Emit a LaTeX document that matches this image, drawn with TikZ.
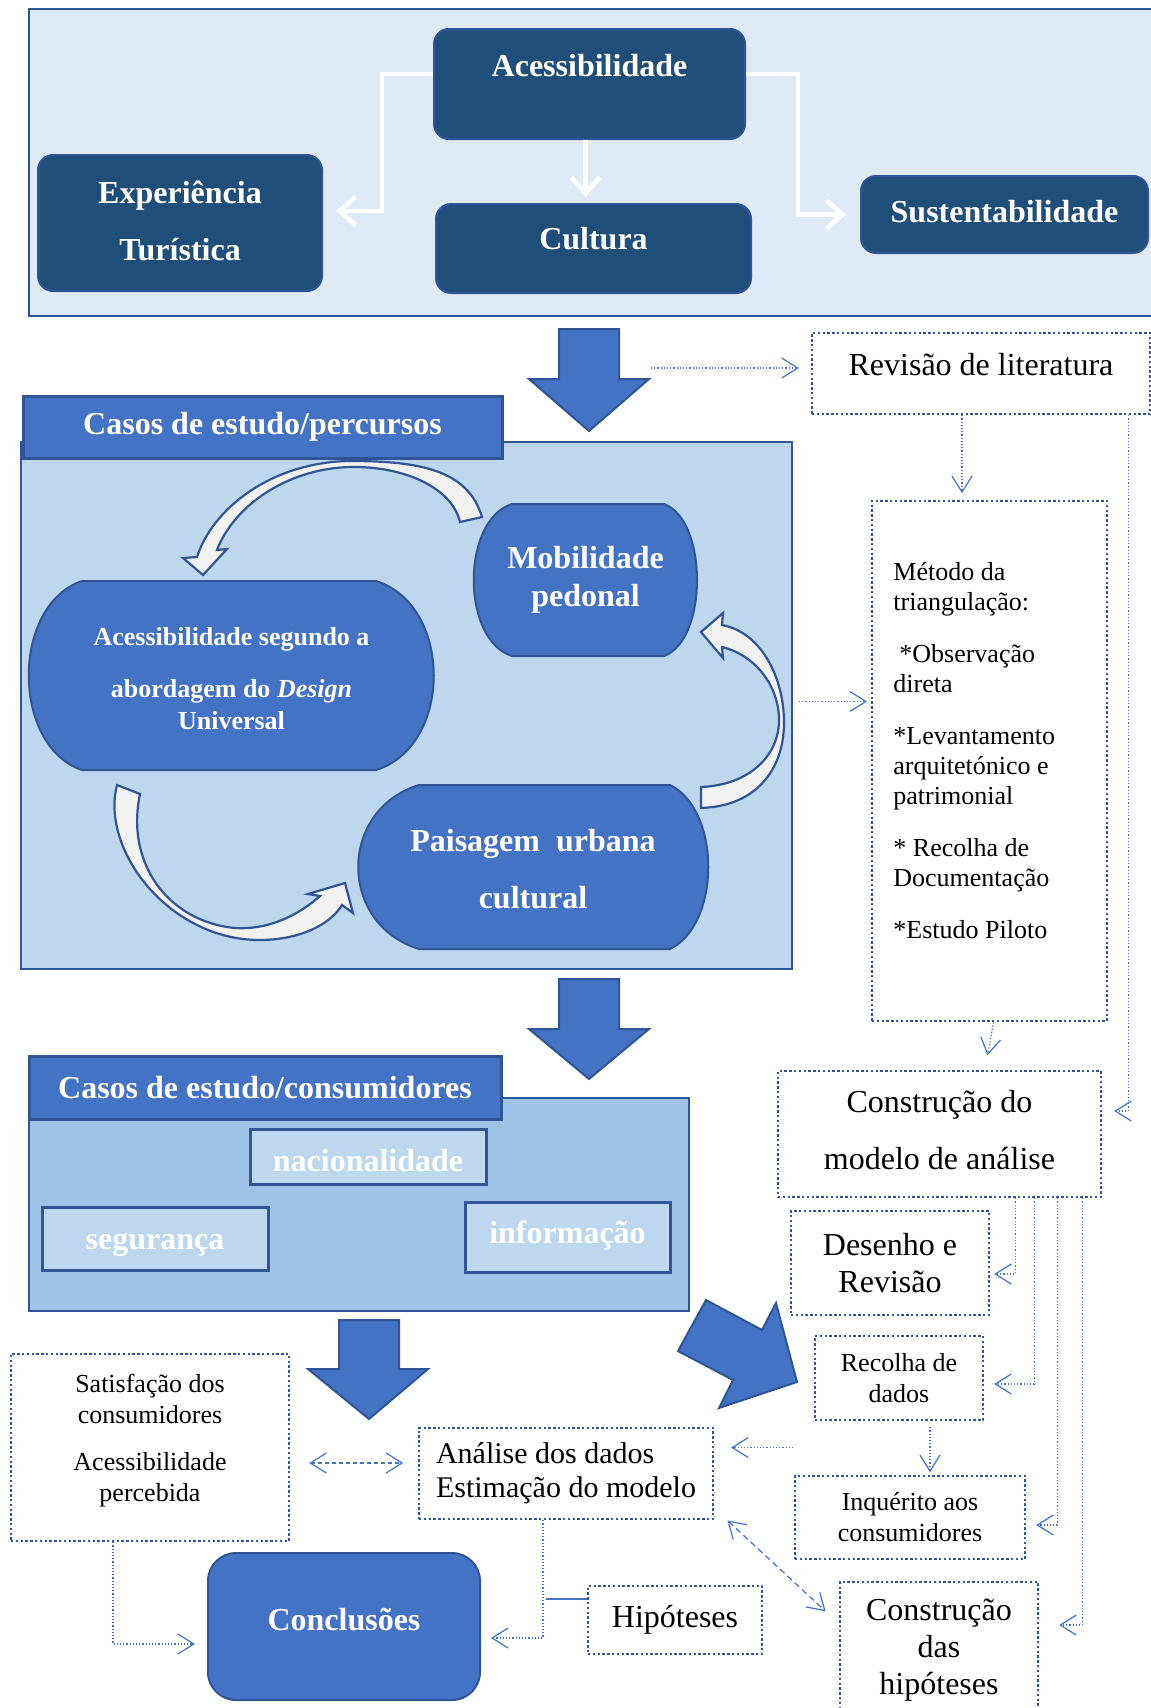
\documentclass[tikz,border=0pt]{standalone}
\usepackage{fontspec}
\setmainfont{Liberation Serif}
\usetikzlibrary{arrows.meta,positioning,calc}

\definecolor{navy}{HTML}{1F4E79}
\definecolor{midblue}{HTML}{4472C4}
\definecolor{edgeblue}{HTML}{2F5597}
\definecolor{panelA}{HTML}{DEEBF7}
\definecolor{panelB}{HTML}{BDD7EE}
\definecolor{panelC}{HTML}{9DC3E6}
\definecolor{arrowfill}{HTML}{F2F2F2}

\tikzset{
  sz/.style 2 args={minimum width=#1*0.5pt, minimum height=#2*0.5pt, inner sep=0pt},
  navybox/.style={draw=edgeblue, line width=1pt, fill=navy, rounded corners=7.5pt, text=white, align=center, font=\fontsize{16}{19}\selectfont\bfseries},
  headbox/.style={draw=edgeblue, line width=1.5pt, fill=midblue, text=white, font=\fontsize{16}{19}\selectfont\bfseries},
  panel/.style={draw=edgeblue, line width=1pt},
  subbox/.style={draw=edgeblue, line width=1.5pt, fill=panelB, text=white, font=\fontsize{16}{19}\selectfont\bfseries},
  dotbox/.style={draw=edgeblue, line width=1.2pt, dash pattern=on 1.2pt off 1.2pt, fill=white, align=center, font=\fontsize{16}{18.5}\selectfont},
  smalltext/.style={font=\fontsize{13}{15.5}\selectfont},
  barrel/.style={draw=edgeblue, line width=1pt, fill=midblue},
  barreltext/.style={text=white, align=center, inner sep=0pt, font=\fontsize{16}{19}\selectfont\bfseries},
  bigarrow/.style={draw=edgeblue, line width=1pt, fill=midblue},
  curvarrow/.style={draw=edgeblue, line width=1.1pt, fill=arrowfill},
  link/.style={draw=midblue, line width=0.6pt, densely dotted, -{Straight Barb[length=8pt,width=10pt]}},
  dlink/.style={draw=midblue, line width=0.6pt, dash pattern=on 2pt off 1.5pt, {Straight Barb[length=8pt,width=10pt]}-{Straight Barb[length=8pt,width=10pt]}},
  whitearr/.style={draw=white, line width=2.3pt, -{Straight Barb[length=8pt,width=14pt]}}
}

\begin{document}
\begin{tikzpicture}[x=0.5pt,y=-0.5pt]
\useasboundingbox (0,0) rectangle (1151,1708);

% top panel
\node[panel, fill=panelA, sz={1130}{307}] (toppanel) at (594,162.5) {};
\node[navybox, sz={311}{110}] (acc) at (589.5,84) {Acessibilidade\\\mbox{}};
\node[navybox, sz={284}{136}, text depth=2pt] (exp) at (180,223) {Experiência\\[9.5pt]Turística};
\node[navybox, sz={315}{89}, text depth=10pt] (cult) at (593.5,248.5) {Cultura};
\node[navybox, sz={287}{77}, text depth=3pt] (sust) at (1004.5,214.5) {Sustentabilidade};

\draw[whitearr, shorten >=6.5pt] ([yshift=5pt]acc.west) -- ++(-51,0) |- ([yshift=6pt]exp.east);
\draw[whitearr, shorten >=7pt] ([yshift=5pt]acc.east) -- ++(52,0) |- (sust.west);
\draw[whitearr] ([xshift=-2pt]acc.south) -- ++(0,57);

% big arrow down to the routes
\filldraw[bigarrow] (559,329) -- (619,329) -- (619,379) -- (649,379) -- (589,431) -- (529,379) -- (559,379) -- cycle;
\coordinate (arr1) at (651,368);

% routes panel
\node[panel, fill=panelB, sz={771}{527}] (midpanel) at (406.5,705.5) {};
\node[headbox, sz={479}{62}] (casosp) at (262.5,427) {Casos de estudo/percursos};

\filldraw[barrel] (512,504) -- (664,504) .. controls (708,520) and (708,640) .. (664,656) -- (512,656) .. controls (461,640) and (461,520) .. (512,504) -- cycle;
\node[barreltext] (mob) at (585.5,580) {Mobilidade\\pedonal};

\filldraw[barrel] (82,581) -- (376,581) .. controls (453,605) and (453,746) .. (376,770) -- (82,770) .. controls (11,746) and (11,605) .. (82,581) -- cycle;
\node[barreltext, font=\fontsize{13}{16}\selectfont\bfseries] (accdu) at (231.5,679) {Acessibilidade segundo a\\[10pt]abordagem do \textit{Design}\\Universal};

\filldraw[barrel] (419,785) -- (670,785) .. controls (721,810) and (721,924) .. (670,949) -- (419,949) .. controls (338,924) and (338,810) .. (419,785) -- cycle;
\node[barreltext] (pais) at (533,869) {Paisagem~~urbana\\[9.5pt]cultural};

% curved arrows
\filldraw[curvarrow] (482,517) .. controls (468,470) and (420,461) .. (350,461) .. controls (270,462) and (212,510) .. (197,557)
  -- (183,558) -- (203,575) -- (227,549) -- (217,550)
  .. controls (232,510) and (282,469) .. (350,467) .. controls (405,466) and (452,488) .. (460,522) -- cycle;
\filldraw[curvarrow] (701,808) .. controls (760,806) and (785,765) .. (784,720) .. controls (783,675) and (760,632) .. (722,625)
  -- (723,613) -- (701,632) -- (723,658) -- (722,647)
  .. controls (755,655) and (778,685) .. (779,718) .. controls (780,755) and (750,785) .. (701,787) -- cycle;
\filldraw[curvarrow] (117,785) .. controls (100,850) and (170,942) .. (263,940) .. controls (300,939) and (330,925) .. (342,905)
  -- (353,913) -- (345,883) -- (308,894) -- (320,896)
  .. controls (295,918) and (265,930) .. (235,928) .. controls (170,922) and (125,865) .. (140,794) -- cycle;

% literature and method
\node[dotbox, sz={338}{81}, text depth=9pt] (revis) at (981,373.5) {Revisão de literatura};
\node[dotbox, sz={235}{520}] (metodo) at (989.5,761) {};
\node[anchor=north west, align=left, inner sep=0pt, font=\fontsize{13}{15}\selectfont] (metodotxt) at (893,562) {Método da\\triangulação:\\[11pt]\hspace*{3pt}*Observação\\direta\\[11pt]*Levantamento\\arquitetónico e\\patrimonial\\[11pt]* Recolha de\\Documentação\\[11pt]*Estudo Piloto};

\draw[link, shorten >=6pt] (arr1) -- (arr1 -| revis.west);
\draw[link, shorten >=4.5pt] ([xshift=-9.5pt]revis.south) -- ++(0,87);
\draw[link, shorten <=3pt, shorten >=3pt] ([yshift=2pt]midpanel.east) -- ++(80,0);

% big arrow down to consumers
\filldraw[bigarrow] (559,979) -- (619,979) -- (619,1029) -- (649,1029) -- (589,1079) -- (529,1029) -- (559,1029) -- cycle;

% consumers panel
\node[panel, fill=panelC, sz={660}{213}] (botpanel) at (359,1204.5) {};
\node[headbox, sz={472}{63}] (casosc) at (265,1087.5) {Casos de estudo/consumidores};
\node[subbox, sz={236}{55}, text height=15pt] (nac) at (368,1156.5) {nacionalidade};
\node[subbox, sz={226}{63}, text height=15pt] (seg) at (155,1238.5) {segurança};
\node[subbox, sz={205}{70}, text depth=5pt] (info) at (567.5,1237) {informação};

\filldraw[bigarrow] (339,1320) -- (399,1320) -- (399,1369) -- (428,1369) -- (369,1419) -- (308,1369) -- (339,1369) -- cycle;
\filldraw[bigarrow] (678,1351) -- (706,1300) -- (762,1330) -- (776,1303) -- (797,1382) -- (719,1408) -- (733,1380) -- cycle;

% model column
\node[dotbox, sz={323}{126}, text depth=4.5pt] (constr) at (939.5,1134) {Construção do\\[10pt]modelo de análise};
\node[dotbox, sz={198}{104}] (desenho) at (890,1263) {Desenho e\\Revisão};
\node[dotbox, smalltext, sz={168}{84}] (recolha) at (899,1378) {Recolha de\\dados};
\node[dotbox, smalltext, sz={230}{83}] (inquer) at (910,1517.5) {Inquérito aos\\consumidores};
\node[dotbox, sz={198}{137}] (consth) at (939,1650.5) {Construção\\das\\hipóteses};

\draw[link] ([xshift=2pt]metodo.south) -- ++(-6,33);
\draw[link, shorten >=6pt] ([xshift=-11.5pt]revis.south east) |- ([yshift=11.5pt]constr.east);
\draw[link, shorten >=2pt] ([xshift=-43.5pt]constr.south east) |- ([yshift=-5.5pt]desenho.east);
\draw[link, shorten >=5pt] ([xshift=-34pt]constr.south east) |- ([yshift=-3pt]recolha.east);
\draw[link, shorten >=5pt] ([xshift=-22.5pt]constr.south east) |- ([yshift=-3.75pt]inquer.east);
\draw[link, shorten >=10pt] ([xshift=-10pt]constr.south east) |- ([yshift=12.75pt]consth.east);
\draw[link, shorten <=3pt, shorten >=2.5pt] ([xshift=15.5pt]recolha.south) -- ++(0,56);

% analysis and conclusions
\node[dotbox, sz={294}{91}, align=left, font=\fontsize{15}{17}\selectfont] (analise) at (566,1473.5) {Análise dos dados\\Estimação do modelo};
\node[dotbox, smalltext, sz={278}{187}, text depth=10pt] (satisf) at (150,1447.5) {Satisfação dos\\consumidores\\[8pt]Acessibilidade\\percebida};
\node[navybox, fill=midblue, rounded corners=14pt, sz={272}{147}, text depth=7.5pt] (concl) at (344,1626.5) {Conclusões};
\node[dotbox, sz={174}{68}] (hipot) at (675,1620) {Hipóteses};

\draw[link, shorten >=8.5pt] ([xshift=39.5pt,yshift=13pt]analise.east) -- ([yshift=13pt]analise.east);
\draw[dlink, shorten <=9.5pt, shorten >=8.5pt] ([yshift=-7.75pt]satisf.east) -- ++(130,0);
\draw[link, shorten >=6pt] ([xshift=-18.5pt]satisf.south) |- ([yshift=-8.75pt]concl.west);
\draw[link, shorten >=5pt] ([xshift=-11.5pt]analise.south) |- ([yshift=-5.75pt]concl.east);
\draw[midblue, line width=0.8pt] ([yshift=10.5pt]hipot.west) -- ++(-41,0);
\draw[dlink, dash pattern=on 3pt off 2pt, shorten <=9pt, shorten >=9pt] ([yshift=6pt]analise.south east) -- ([yshift=13.5pt]consth.west);

\end{tikzpicture}
\end{document}
